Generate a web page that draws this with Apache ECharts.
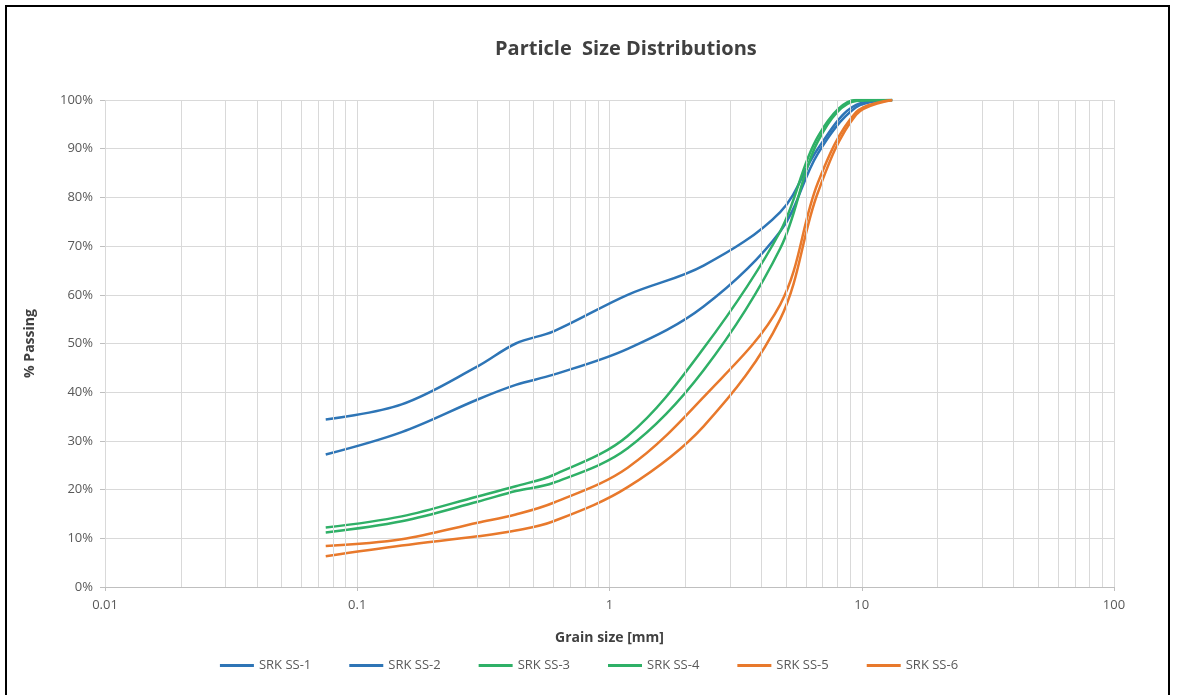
<!DOCTYPE html>
<html>
<head>
<meta charset="utf-8">
<script src="https://cdn.jsdelivr.net/npm/echarts@6/dist/echarts.min.js"></script>
<style>
html,body{margin:0;padding:0;background:#fff;}
#chart{width:1178px;height:695px;}
</style>
</head>
<body>
<div id="chart"></div>
<script>
// Sieve sizes (mm)
const sizes = [0.075, 0.15, 0.3, 0.425, 0.6, 1.18, 2.36, 4.75, 6.7, 9.5, 13.2];
// % passing per sample
const ss1 = [34.4, 37.5, 45.3, 50.0, 52.5, 60.0, 66.0, 77.0, 90.0, 99.0, 100];
const ss2 = [27.2, 31.8, 38.5, 41.5, 43.6, 48.9, 57.6, 73.0, 89.0, 98.5, 100];
const ss3 = [12.2, 14.5, 18.6, 20.7, 23.0, 31.0, 49.0, 73.0, 92.5, 100, 100];
const ss4 = [11.2, 13.5, 17.5, 19.7, 21.4, 28.5, 44.5, 69.5, 91.5, 99.8, 100];
const ss5 = [8.4, 9.8, 13.2, 14.9, 17.3, 24.5, 39.0, 58.0, 83.0, 97.5, 100];
const ss6 = [6.3, 8.5, 10.4, 11.6, 13.5, 20.5, 33.0, 55.0, 81.0, 97.0, 100];
const seriesNames = ['SRK SS-1','SRK SS-2','SRK SS-3','SRK SS-4','SRK SS-5','SRK SS-6'];
const seriesColors = ['#2E75B6','#2E75B6','#2FB067','#2FB067','#E8792C','#E8792C'];
const seriesValues = [ss1, ss2, ss3, ss4, ss5, ss6];
// x tick decades and minor grid multipliers
const decades = [0.01, 0.1, 1, 10];
const minorMult = [2, 3, 4, 5, 6, 7, 8, 9];

const minorLines = [];
decades.forEach(d => minorMult.forEach(m => minorLines.push({xAxis: +(d * m).toPrecision(3)})));

const FONT = '"Open Sans", Lato, sans-serif';
const series = seriesNames.map((n, i) => ({
  name: n,
  type: 'line',
  smooth: 0.35,
  showSymbol: false,
  symbol: 'none',
  lineStyle: {width: 2.5, color: seriesColors[i]},
  itemStyle: {color: seriesColors[i]},
  data: sizes.map((s, j) => [s, seriesValues[i][j]]),
  z: 3
}));
series.unshift({
  name: 'grid',
  type: 'line',
  data: [],
  silent: true,
  z: 1,
  markLine: {
    silent: true,
    symbol: 'none',
    label: {show: false},
    lineStyle: {color: '#d9d9d9', width: 1, type: 'solid'},
    emphasis: {disabled: true},
    animation: false,
    data: minorLines
  }
});

const chart = echarts.init(document.getElementById('chart'), null, {renderer: 'canvas'});
chart.setOption({
  animation: false,
  backgroundColor: '#fff',
  title: {
    text: 'Particle  Size Distributions',
    left: 490, top: 34,
    textStyle: {fontFamily: FONT, fontSize: 20, fontWeight: 'bold', color: '#404040'}
  },
  graphic: [{
    type: 'rect',
    shape: {x: 6, y: 6, width: 1163, height: 700},
    style: {fill: 'none', stroke: '#000', lineWidth: 2},
    silent: true
  }],
  legend: {
    data: seriesNames,
    bottom: 18,
    left: 'center',
    itemWidth: 34,
    itemHeight: 3,
    icon: 'rect',
    itemGap: 38,
    textStyle: {fontFamily: FONT, fontSize: 13, color: '#595959'}
  },
  grid: {left: 105, right: 64, top: 100, bottom: 108, containLabel: false},
  xAxis: {
    type: 'log',
    logBase: 10,
    min: 0.01,
    max: 100,
    name: 'Grain size [mm]',
    nameLocation: 'middle',
    nameGap: 44,
    nameTextStyle: {fontFamily: FONT, fontSize: 14, fontWeight: 'bold', color: '#404040'},
    axisLine: {show: true, lineStyle: {color: '#bfbfbf'}},
    axisTick: {show: true, length: 4, lineStyle: {color: '#bfbfbf'}},
    axisLabel: {fontFamily: FONT, fontSize: 13, color: '#595959', margin: 12,
      formatter: v => String(+v.toPrecision(3))},
    splitLine: {show: true, lineStyle: {color: '#d9d9d9', width: 1}}
  },
  yAxis: {
    type: 'value',
    min: 0, max: 100, interval: 10,
    name: '% Passing',
    nameLocation: 'middle',
    nameGap: 68,
    nameTextStyle: {fontFamily: FONT, fontSize: 14, fontWeight: 'bold', color: '#404040'},
    axisLine: {show: false},
    axisTick: {show: true, length: 5, lineStyle: {color: '#bfbfbf'}},
    axisLabel: {fontFamily: FONT, fontSize: 13, color: '#595959', margin: 12, formatter: '{value}%'},
    splitLine: {show: true, lineStyle: {color: '#d9d9d9', width: 1}}
  },
  series: series
});
</script>
</body>
</html>
